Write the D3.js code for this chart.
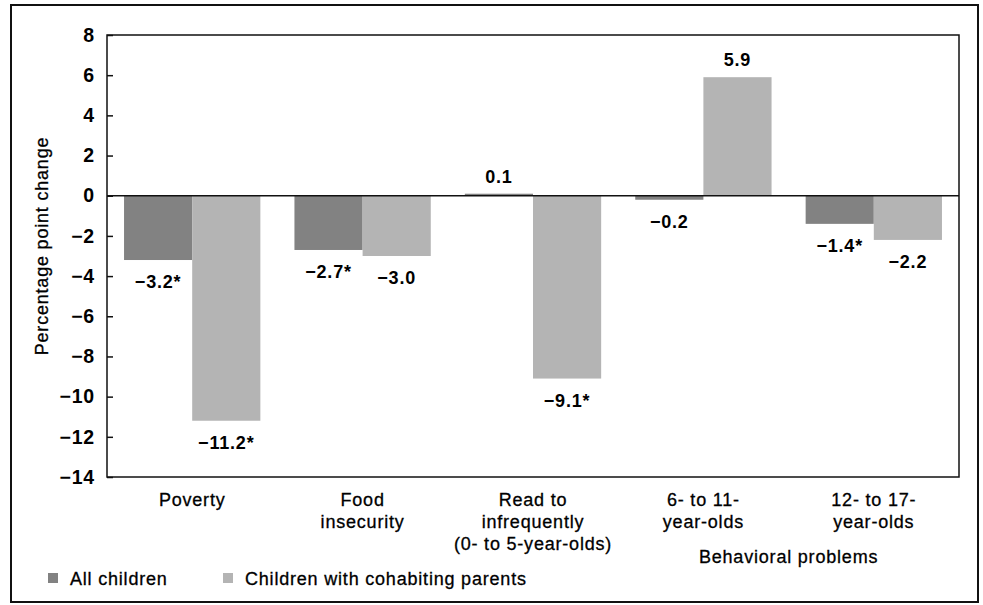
<!DOCTYPE html>
<html>
<head>
<meta charset="utf-8">
<script src="https://cdnjs.cloudflare.com/ajax/libs/d3/7.8.5/d3.min.js"></script>
<style>
	body { margin: 0; background: #fff; }
	svg text { font-family: "Liberation Sans", Arial, Helvetica, sans-serif; fill: #000; letter-spacing: 0.8px; }
	.num { font-size: 18px; font-weight: bold; }
	.tick text { font-size: 19.5px; }
	.cat { font-size: 18px; stroke: #000; stroke-width: 0.3px; }
</style>
</head>
<body>
<div class="mainContainer"></div>
<script>
// data
var categories = ["Poverty", "Food insecurity", "Read to infrequently", "6- to 11-year-olds", "12- to 17-year-olds"];
var categoryLines = [["Poverty"], ["Food", "insecurity"], ["Read to", "infrequently", "(0- to 5-year-olds)"], ["6- to 11-", "year-olds"], ["12- to 17-", "year-olds"]];
var seriesNames = ["All children", "Children with cohabiting parents"];
var allChildren = [-3.2, -2.7, 0.1, -0.2, -1.4];
var cohabiting = [-11.2, -3.0, -9.1, 5.9, -2.2];
var allSignificant = [true, true, false, false, true];
var cohabSignificant = [true, false, true, false, false];
var yTicks = [8, 6, 4, 2, 0, -2, -4, -6, -8, -10, -12, -14];
var groupTitle = "Behavioral problems";
var groupMembers = ["6- to 11-year-olds", "12- to 17-year-olds"];

var W = 983, H = 605;
var plotLeft = 107, plotRight = 959, plotTop = 35, plotBottom = 477;
var colors = ["#828282", "#b4b4b4"];

var svg = d3.select('.mainContainer').append('svg').attr('width', W).attr('height', H);

// outer frame
svg.append('rect').attr('x', 11).attr('y', 5).attr('width', 967).attr('height', 597)
	.style('fill', 'none').style('stroke', '#111').style('stroke-width', 2);

var x0 = d3.scaleBand().domain(categories).range([plotLeft, plotRight]).paddingInner(0.2).paddingOuter(0.1);
var x1 = d3.scaleBand().domain(seriesNames).range([0, x0.bandwidth()]);
var y = d3.scaleLinear().domain([-14, 8]).range([plotBottom, plotTop]);

var rows = categories.map(function(c, i) {
	return [
		{cat: c, s: seriesNames[0], v: allChildren[i], sig: allSignificant[i], k: 0},
		{cat: c, s: seriesNames[1], v: cohabiting[i], sig: cohabSignificant[i], k: 1}
	];
});

var groups = svg.selectAll('g.grp').data(rows).enter().append('g').attr('class', 'grp')
	.attr('transform', function(d, i) { return 'translate(' + x0(categories[i]) + ',0)'; });

groups.selectAll('rect').data(function(d) { return d; }).enter().append('rect')
	.attr('x', function(d) { return x1(d.s); })
	.attr('y', function(d) { return y(Math.max(0, d.v)); })
	.attr('width', x1.bandwidth())
	.attr('height', function(d) { return Math.abs(y(d.v) - y(0)); })
	.style('fill', function(d) { return colors[d.k]; });

var fmt = d3.format('.1f');
groups.selectAll('text.val').data(function(d) { return d; }).enter().append('text')
	.attr('class', 'num val')
	.attr('text-anchor', 'middle')
	.attr('x', function(d) { return x1(d.s) + x1.bandwidth() / 2; })
	.attr('y', function(d) { return d.v >= 0 ? y(d.v) - 11 : y(d.v) + 28; })
	.text(function(d) { return fmt(d.v) + (d.sig ? '*' : ''); });

// y axis with inward ticks
var axis = svg.append('g').attr('transform', 'translate(' + plotLeft + ',0)')
	.call(d3.axisLeft(y).tickValues(yTicks).tickSize(-6).tickPadding(12));
axis.attr('font-family', null).attr('font-size', null);
axis.select('.domain').remove();
axis.selectAll('line').style('stroke', '#111').style('stroke-width', 1.5);
axis.selectAll('text').attr('class', 'num').attr('fill', null);

// plot frame and zero line
svg.append('rect').attr('x', plotLeft).attr('y', plotTop).attr('width', plotRight - plotLeft).attr('height', plotBottom - plotTop)
	.style('fill', 'none').style('stroke', '#111').style('stroke-width', 1.5);
svg.append('line').attr('x1', plotLeft).attr('x2', plotRight).attr('y1', y(0)).attr('y2', y(0))
	.style('stroke', '#111').style('stroke-width', 1.5);

// y title
svg.append('text').attr('class', 'cat').attr('text-anchor', 'middle')
	.attr('transform', 'translate(48,246) rotate(-90)')
	.text('Percentage point change');

// category labels
categoryLines.forEach(function(lines, i) {
	var cx = x0(categories[i]) + x0.bandwidth() / 2;
	lines.forEach(function(l, j) {
		svg.append('text').attr('class', 'cat').attr('text-anchor', 'middle')
			.attr('x', cx).attr('y', 506 + j * 22).text(l);
	});
});
var gx = (x0(groupMembers[0]) + x0(groupMembers[1]) + x0.bandwidth()) / 2;
svg.append('text').attr('class', 'cat').attr('text-anchor', 'middle')
	.attr('x', gx).attr('y', 563).text(groupTitle);

// legend
var legendX = [48, 223];
seriesNames.forEach(function(s, i) {
	svg.append('rect').attr('x', legendX[i]).attr('y', 573).attr('width', 10).attr('height', 10)
		.style('fill', colors[i]);
	svg.append('text').attr('class', 'cat').attr('x', legendX[i] + 22).attr('y', 585).text(s);
});
</script>
</body>
</html>
